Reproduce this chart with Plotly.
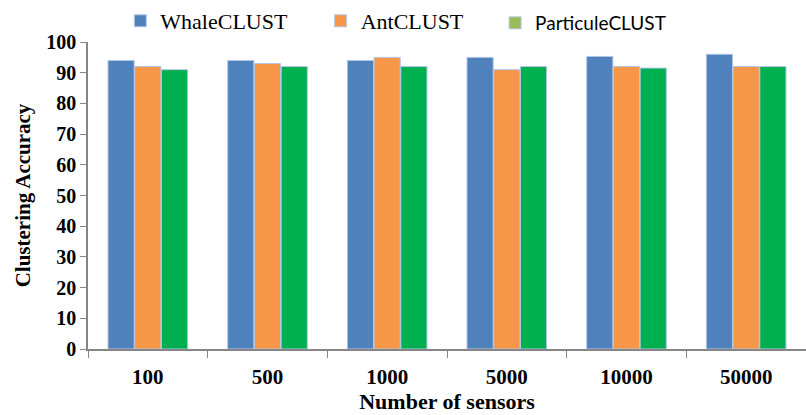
import plotly.graph_objects as go

sensors = ["100", "500", "1000", "5000", "10000", "50000"]
whale = [94, 94, 94, 95, 95.3, 96]
ant = [92, 93, 95, 91, 92, 92]
particule = [91, 92, 92, 92, 91.5, 92]

series_names = ["WhaleCLUST", "AntCLUST", "ParticuleCLUST"]
bar_colors = ["#4f81bd", "#f79646", "#00b050"]
legend_colors = ["#4f81bd", "#f79646", "#9bbb59"]
legend_fonts = [("Liberation Serif", 22), ("Liberation Serif", 22), ("Lato", 19)]
legend_x = [0.045, 0.324, 0.567]
legend_ids = ["legend", "legend2", "legend3"]

serif = "Liberation Serif"
fig = go.Figure()

for name, vals, col in zip(series_names, [whale, ant, particule], bar_colors):
    fig.add_trace(go.Bar(
        x=sensors, y=vals, name=name, marker_color=col,
        marker_line=dict(color="#b4c7e7", width=1),
        showlegend=False,
    ))

# one legend per series so each entry keeps its own font; swatches are square markers
for name, col, lid in zip(series_names, legend_colors, legend_ids):
    fig.add_trace(go.Scatter(
        x=[None], y=[None], mode="markers", name=name, legend=lid,
        marker=dict(symbol="square", size=12, color=col,
                    line=dict(color="#b4c7e7", width=1)),
        showlegend=True,
    ))

legend_layout = {}
for lid, (fam, sz), lx in zip(legend_ids, legend_fonts, legend_x):
    legend_layout[lid] = dict(
        orientation="h", x=lx, xanchor="left", y=1.0, yanchor="bottom",
        font=dict(size=sz, family=fam, color="black"),
        itemwidth=30, bgcolor="rgba(0,0,0,0)",
    )

fig.update_layout(
    width=806, height=415,
    margin=dict(l=88, r=0, t=35, b=66),
    paper_bgcolor="white", plot_bgcolor="white",
    barmode="group", bargap=0.33, bargroupgap=0.02,
    font=dict(family=serif, color="black"),
    xaxis=dict(
        showline=True, linecolor="#868686", linewidth=1.5,
        ticks="outside", tickson="boundaries", ticklen=7, tickcolor="#868686",
        tickfont=dict(size=21, family=serif, weight="bold"),
        ticklabelstandoff=8,
        title=dict(text="<b>Number of sensors</b>", font=dict(size=22, family=serif), standoff=2),
        showgrid=False,
    ),
    yaxis=dict(
        range=[0, 100], dtick=10,
        showline=True, linecolor="#868686", linewidth=1.5,
        ticks="outside", ticklen=6, tickcolor="#868686",
        tickfont=dict(size=20, family=serif, weight="bold"),
        title=dict(text="<b>Clustering Accuracy</b>", font=dict(size=21, family=serif), standoff=10),
        showgrid=False, zeroline=False,
    ),
    **legend_layout,
)

fig.write_html("out.html")
